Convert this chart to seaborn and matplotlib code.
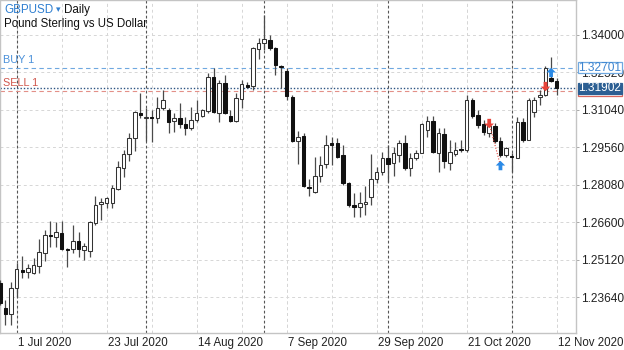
import numpy as np
import pandas as pd
import matplotlib
matplotlib.use("Agg")
import matplotlib.pyplot as plt
import matplotlib.transforms as mtransforms
from matplotlib.path import Path
from matplotlib.patches import Rectangle
import seaborn as sns

# ---------------- data ----------------
bar_index = list(range(-3, 97))
opens = [1.2420, 1.2321, 1.2297, 1.2400, 1.2471, 1.2463, 1.2459, 1.2487, 1.2538, 1.2609,
         1.2602, 1.2617, 1.2554, 1.2554, 1.2586, 1.2550, 1.2546, 1.2657, 1.2732, 1.2736,
         1.2736, 1.2791, 1.2874, 1.2930, 1.2993, 1.3092, 1.3072, 1.3076, 1.3072, 1.3111,
         1.3104, 1.3060, 1.3072, 1.3048, 1.3032, 1.3064, 1.3080, 1.3100, 1.3234, 1.3092,
         1.3210, 1.3080, 1.3060, 1.3147, 1.3202, 1.3198, 1.3345, 1.3368, 1.3380, 1.3349,
         1.3277, 1.3258, 1.3155, 1.2981, 1.3001, 1.2799, 1.2779, 1.2843, 1.2890, 1.2973,
         1.2973, 1.2926, 1.2815, 1.2728, 1.2720, 1.2732, 1.2760, 1.2831, 1.2859, 1.2914,
         1.2894, 1.2926, 1.2973, 1.2874, 1.2914, 1.2934, 1.3025, 1.3060, 1.2934, 1.3009,
         1.2894, 1.2930, 1.2949, 1.2945, 1.3143, 1.3084, 1.3048, 1.3013, 1.3040, 1.2981,
         1.2926, 1.2922, 1.2914, 1.3056, 1.2985, 1.3096, 1.3155, 1.3163, 1.3230, 1.3218]
highs = [1.2432, 1.2353, 1.2424, 1.2499, 1.2526, 1.2495, 1.2519, 1.2594, 1.2629, 1.2665,
         1.2661, 1.2665, 1.2558, 1.2649, 1.2621, 1.2578, 1.2665, 1.2764, 1.2756, 1.2760,
         1.2807, 1.2902, 1.2945, 1.3013, 1.3100, 1.3171, 1.3111, 1.3104, 1.3155, 1.3183,
         1.3111, 1.3092, 1.3131, 1.3076, 1.3115, 1.3143, 1.3108, 1.3250, 1.3270, 1.3222,
         1.3242, 1.3104, 1.3171, 1.3222, 1.3214, 1.3353, 1.3388, 1.3479, 1.3400, 1.3353,
         1.3281, 1.3270, 1.3163, 1.3021, 1.3013, 1.2831, 1.2918, 1.2922, 1.3005, 1.2997,
         1.2993, 1.2965, 1.2819, 1.2775, 1.2779, 1.2803, 1.2930, 1.2878, 1.2938, 1.2965,
         1.2957, 1.2985, 1.3005, 1.2934, 1.2945, 1.3052, 1.3080, 1.3080, 1.3032, 1.3032,
         1.2985, 1.2977, 1.2985, 1.3163, 1.3151, 1.3104, 1.3064, 1.3052, 1.3052, 1.2997,
         1.2957, 1.2934, 1.3076, 1.3072, 1.3151, 1.3155, 1.3183, 1.3277, 1.3313, 1.3230]
lows = [1.2333, 1.2254, 1.2254, 1.2364, 1.2440, 1.2440, 1.2455, 1.2459, 1.2507, 1.2562,
        1.2562, 1.2550, 1.2483, 1.2538, 1.2523, 1.2511, 1.2523, 1.2649, 1.2669, 1.2716,
        1.2716, 1.2787, 1.2839, 1.2902, 1.2942, 1.3072, 1.2981, 1.2977, 1.3052, 1.3104,
        1.3013, 1.3017, 1.3032, 1.3005, 1.3025, 1.3056, 1.3076, 1.3092, 1.3092, 1.3056,
        1.3088, 1.3056, 1.3056, 1.3111, 1.3190, 1.3183, 1.3305, 1.3341, 1.3341, 1.3242,
        1.3190, 1.3143, 1.2977, 1.2890, 1.2799, 1.2764, 1.2775, 1.2819, 1.2874, 1.2886,
        1.2914, 1.2807, 1.2720, 1.2681, 1.2681, 1.2689, 1.2728, 1.2815, 1.2847, 1.2819,
        1.2843, 1.2898, 1.2866, 1.2843, 1.2906, 1.2934, 1.2997, 1.2934, 1.2859, 1.2874,
        1.2866, 1.2922, 1.2938, 1.2938, 1.3072, 1.3032, 1.3005, 1.2997, 1.2973, 1.2918,
        1.2918, 1.2859, 1.2914, 1.2977, 1.2985, 1.3076, 1.3123, 1.3159, 1.3214, 1.3163]
closes = [1.2341, 1.2297, 1.2400, 1.2475, 1.2465, 1.2479, 1.2491, 1.2542, 1.2609, 1.2606,
          1.2621, 1.2554, 1.2550, 1.2586, 1.2554, 1.2566, 1.2661, 1.2728, 1.2740, 1.2756,
          1.2795, 1.2878, 1.2930, 1.2993, 1.3096, 1.3084, 1.3076, 1.3072, 1.3111, 1.3143,
          1.3056, 1.3072, 1.3048, 1.3032, 1.3064, 1.3092, 1.3104, 1.3234, 1.3096, 1.3210,
          1.3092, 1.3060, 1.3151, 1.3206, 1.3194, 1.3349, 1.3368, 1.3384, 1.3349, 1.3281,
          1.3274, 1.3159, 1.2981, 1.2997, 1.2803, 1.2795, 1.2843, 1.2886, 1.2965, 1.2965,
          1.2918, 1.2815, 1.2728, 1.2720, 1.2736, 1.2740, 1.2831, 1.2859, 1.2914, 1.2890,
          1.2934, 1.2973, 1.2874, 1.2914, 1.2934, 1.3048, 1.3060, 1.2938, 1.3013, 1.2902,
          1.2938, 1.2945, 1.2945, 1.3143, 1.3080, 1.3044, 1.3017, 1.3040, 1.2981, 1.2926,
          1.2953, 1.2918, 1.3056, 1.2985, 1.3143, 1.3143, 1.3163, 1.3270, 1.3218, 1.3190]

x_tick_pos = [0, 16, 32, 48, 64, 80, 96]
x_tick_labels = ["1 Jul 2020", "23 Jul 2020", "14 Aug 2020", "7 Sep 2020",
                 "29 Sep 2020", "21 Oct 2020", "12 Nov 2020"]
grid_pos = [0, 8, 16, 24, 32, 40, 48, 56, 64, 72, 80, 88, 96]
month_start_pos = [0, 23, 44, 66, 88]
y_ticks = [1.23640, 1.25120, 1.26600, 1.28080, 1.29560, 1.31040, 1.32520, 1.34000]

buy_price = 1.32701
sell_price = 1.31800
last_price = 1.31902

trade_pos = [84, 86, 94, 95]
trade_price = [1.3050, 1.2884, 1.3196, 1.3252]
trade_side = ["sell", "buy", "sell", "buy"]

# ---------------- styling ----------------
sns.set_theme(style="white")
plt.rcParams["font.family"] = ["Liberation Sans", "DejaVu Sans"]

W, H = 624, 350
fig = plt.figure(figsize=(W / 100, H / 100), dpi=100, facecolor="white")
ax = fig.add_axes([0, 17 / H, 576 / W, 333 / H])
ax.set_facecolor("white")

df = pd.DataFrame({"idx": bar_index, "open": opens, "high": highs,
                   "low": lows, "close": closes})
up = df["close"] >= df["open"]
body_bottom = np.minimum(df["open"], df["close"])
body_h = np.maximum((df["close"] - df["open"]).abs(), 0.00045)

# wicks
ax.vlines(df["idx"], df["low"], df["high"], color="#4a4a4a", lw=0.9, zorder=3)
# bodies
ax.bar(df["idx"][up], body_h[up], bottom=body_bottom[up], width=0.62,
       color="white", edgecolor="#333333", linewidth=0.75, zorder=4)
ax.bar(df["idx"][~up], body_h[~up], bottom=body_bottom[~up], width=0.62,
       color="#111111", edgecolor="#111111", linewidth=0.75, zorder=4)

# trade link line
ax.plot(trade_pos[:2], trade_price[:2], color="#e0483e", lw=0.8,
        ls=(0, (1, 1.5)), zorder=5)

# trade arrows via seaborn
up_arrow = Path([(0, 0.5), (0.5, 0.0), (0.2, 0.0), (0.2, -0.5), (-0.2, -0.5),
                 (-0.2, 0.0), (-0.5, 0.0), (0, 0.5)],
                [Path.MOVETO] + [Path.LINETO] * 6 + [Path.CLOSEPOLY])
down_arrow = Path([(x, -y) for x, y in up_arrow.vertices], up_arrow.codes)
tdf = pd.DataFrame({"pos": trade_pos, "price": trade_price, "side": trade_side})
sns.scatterplot(data=tdf, x="pos", y="price", hue="side", style="side",
                palette={"sell": "#e8443a", "buy": "#2b8ae6"},
                markers={"sell": down_arrow, "buy": up_arrow},
                s=46, linewidth=0, legend=False, ax=ax, zorder=6)

# axes limits
ax.set_xlim(-2.97, 99.43)
ax.set_ylim(1.22221, 1.35383)
ax.set_xlabel("")
ax.set_ylabel("")

# grid
ax.set_xticks(x_tick_pos)
ax.set_xticklabels(x_tick_labels)
ax.set_xticks(grid_pos, minor=True)
ax.set_yticks(y_ticks)
ax.set_yticklabels([f"{v:.5f}" for v in y_ticks])
ax.xaxis.remove_overlapping_locs = False
ax.grid(True, which="both", axis="x", color="#d6d6d6", lw=0.7, ls=(0, (3, 3)), zorder=0)
ax.grid(True, which="major", axis="y", color="#d6d6d6", lw=0.7, ls=(0, (3, 3)), zorder=0)
ax.set_axisbelow(True)

for m in month_start_pos:
    ax.axvline(m, color="#555555", lw=0.8, ls=(0, (2.5, 2)), zorder=1)

# price lines
ax.axhline(buy_price, color="#6fa8e0", lw=0.8, ls=(0, (4, 3)), zorder=2)
ax.axhline(sell_price, color="#e39088", lw=0.8, ls=(0, (4, 3)), zorder=2)
ax.axhline(last_price, color="#2d5482", lw=1.0, ls=(0, (1, 1.4)), zorder=2)

ax.annotate("BUY 1", xy=(0, buy_price), xycoords=("axes fraction", "data"),
            xytext=(2.5, 2.2), textcoords="offset points", color="#4a90d9",
            fontsize=7.8, va="bottom", ha="left", zorder=7)
ax.annotate("SELL 1", xy=(0, sell_price), xycoords=("axes fraction", "data"),
            xytext=(2.5, 2.2), textcoords="offset points", color="#d0564c",
            fontsize=7.8, va="bottom", ha="left", zorder=7)

# ticks
ax.yaxis.tick_right()
ax.tick_params(axis="y", which="major", length=2.5, width=0.6, color="#999999",
               pad=1, labelsize=8.6, labelcolor="#222222")
ax.tick_params(axis="x", which="both", length=0, pad=3.2, labelsize=8.3,
               labelcolor="#222222")
offset = mtransforms.ScaledTranslation(1.2 / 100, 0, fig.dpi_scale_trans)
for lbl in ax.get_xticklabels():
    lbl.set_horizontalalignment("left")
    lbl.set_transform(lbl.get_transform() + offset)

for sp in ax.spines.values():
    sp.set_color("#c4c4c4")
    sp.set_linewidth(1.0)

# right-hand price boxes
blend = mtransforms.blended_transform_factory(ax.transAxes, ax.transData)
box_x0 = 577.5 / 576
box_w = 44.0 / 576
box_h = 11.0 / 2530


def price_box(price, text, fc, ec, tc, z):
    ax.add_patch(Rectangle((box_x0, price - box_h / 2), box_w, box_h, transform=blend,
                           facecolor=fc, edgecolor=ec, lw=0.9, clip_on=False, zorder=z))
    if text:
        ax.text(box_x0 + box_w / 2, price, text, transform=blend, ha="center", va="center",
                color=tc, fontsize=8.6, clip_on=False, zorder=z + 0.5)


price_box(buy_price, f"{buy_price:.5f}", "white", "#6fa8e0", "#3d85d0", 10)
# sell label sits (hidden) underneath the last-price label, only its edge shows
price_box(sell_price, "", "white", "#d9675d", "#d9675d", 11)
price_box(last_price, f"{last_price:.5f}", "#2c5f93", "#2c5f93", "white", 12)

# header
fig.text(4 / W, 1 - 10 / H, "GBPUSD", color="#2f7fd0", fontsize=8.4, va="center", ha="left")
fig.text(56 / W, 1 - 10 / H, "▾", color="#2f7fd0", fontsize=6.5, va="center", ha="left")
fig.text(64 / W, 1 - 10 / H, "Daily", color="#111111", fontsize=8.4, va="center", ha="left")
fig.text(4 / W, 1 - 24 / H, "Pound Sterling vs US Dollar", color="#111111", fontsize=8.3,
         va="center", ha="left")

fig.savefig("out.png", dpi=100, facecolor="white")
